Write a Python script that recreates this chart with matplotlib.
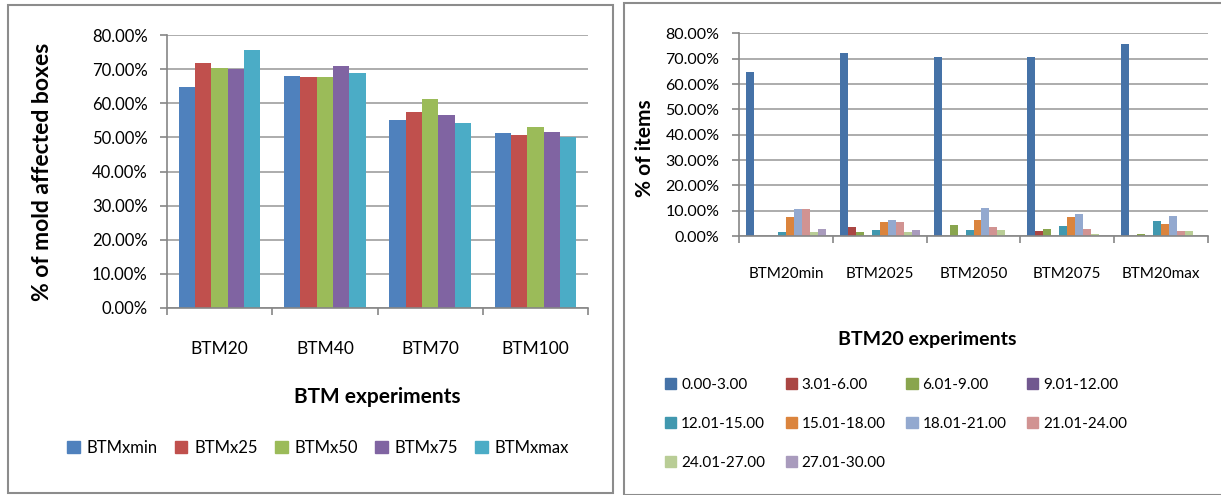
import matplotlib
matplotlib.use("Agg")
import matplotlib.pyplot as plt
from matplotlib.patches import Rectangle, Patch
from matplotlib.ticker import PercentFormatter, FixedLocator
import numpy as np

plt.rcParams['font.family'] = ['Lato', 'DejaVu Sans']

# left chart data (% of mold affected boxes)
btm_cats = ['BTM20', 'BTM40', 'BTM70', 'BTM100']
btm_series = ['BTMxmin', 'BTMx25', 'BTMx50', 'BTMx75', 'BTMxmax']
btm_xmin = [64.8, 68.1, 55.1, 51.2]
btm_x25 = [71.8, 67.7, 57.3, 50.6]
btm_x50 = [70.4, 67.7, 61.1, 53.1]
btm_x75 = [69.9, 70.8, 56.6, 51.5]
btm_xmax = [75.6, 68.9, 54.3, 50.0]
btm_colors = ['#4F81BD', '#C0504D', '#9BBB59', '#8064A2', '#4BACC6']

# right chart data (% of items)
exp_cats = ['BTM20min', 'BTM2025', 'BTM2050', 'BTM2075', 'BTM20max']
ranges = ['0.00-3.00', '3.01-6.00', '6.01-9.00', '9.01-12.00', '12.01-15.00',
          '15.01-18.00', '18.01-21.00', '21.01-24.00', '24.01-27.00', '27.01-30.00']
r_0_3 = [64.6, 72.2, 70.8, 70.8, 75.8]
r_3_6 = [0.0, 3.5, 0.0, 1.8, 0.0]
r_6_9 = [0.0, 1.4, 4.3, 2.8, 0.7]
r_9_12 = [0.0, 0.0, 0.0, 0.0, 0.0]
r_12_15 = [1.4, 2.3, 2.3, 3.8, 5.8]
r_15_18 = [7.5, 5.5, 6.4, 7.4, 4.8]
r_18_21 = [10.7, 6.4, 11.0, 8.5, 7.9]
r_21_24 = [10.7, 5.5, 3.4, 2.8, 1.9]
r_24_27 = [1.4, 1.4, 2.3, 0.7, 1.9]
r_27_30 = [2.9, 2.3, 0.0, 0.0, 0.0]
range_colors = ['#4572A7', '#AA4643', '#89A54E', '#71588F', '#4198AF',
                '#DB843D', '#93A9CF', '#D19392', '#B9CD96', '#A99BBD']

W, H = 1221, 495
fig = plt.figure(figsize=(W / 100, H / 100), dpi=100)

def px(x0, y0, x1, y1):
    # pixel box -> figure fraction [left, bottom, width, height]
    return [x0 / W, 1 - y1 / H, (x1 - x0) / W, (y1 - y0) / H]

# panel frames
fig.patches.append(Rectangle((8 / W, 1 - 493 / H), 605 / W, 488 / H, transform=fig.transFigure,
                             fill=False, edgecolor='#8c8c8c', linewidth=1.5))
fig.patches.append(Rectangle((624 / W, 0), 600 / W, 1 - 3 / H, transform=fig.transFigure,
                             fill=False, edgecolor='#8c8c8c', linewidth=1.5))

grid_c = '#a6a6a6'
axis_c = '#868686'

def style_axes(ax, ncat, label_pad):
    ax.set_xlim(-0.5, ncat - 0.5)
    ax.set_ylim(0, 80)
    ax.set_yticks(np.arange(0, 81, 10))
    ax.yaxis.set_major_formatter(PercentFormatter(xmax=100, decimals=2))
    ax.grid(axis='y', color=grid_c, linewidth=1.3)
    ax.set_axisbelow(True)
    for s in ['top', 'right']:
        ax.spines[s].set_visible(False)
    for s in ['left', 'bottom']:
        ax.spines[s].set_color(axis_c)
        ax.spines[s].set_linewidth(1.2)
    ax.set_xticks(np.arange(ncat))
    ax.xaxis.set_minor_locator(FixedLocator(np.arange(ncat + 1) - 0.5))
    ax.tick_params(axis='x', which='major', length=0, pad=label_pad)
    ax.tick_params(axis='x', which='minor', length=5, color=axis_c, width=1.2)
    ax.tick_params(axis='y', length=5, color=axis_c, width=1.2, pad=9)

# ---- left chart
ax1 = fig.add_axes(px(167, 35, 588, 308))
bw = 0.155
x = np.arange(len(btm_cats))
for i, (name, vals) in enumerate(zip(btm_series, [btm_xmin, btm_x25, btm_x50, btm_x75, btm_xmax])):
    ax1.bar(x + (i - 2) * bw, vals, width=bw, color=btm_colors[i], label=name, zorder=2)
style_axes(ax1, len(btm_cats), 24)
ax1.set_xticklabels(btm_cats, fontsize=12.5)
ax1.tick_params(axis='y', labelsize=12)
ax1.set_ylabel('% of mold affected boxes', fontsize=16.5, fontweight='bold', va='center')
ax1.yaxis.set_label_coords(-0.295, 0.5)
ax1.set_xlabel('BTM experiments', fontsize=15, fontweight='bold', va='center')
ax1.xaxis.set_label_coords(0.499, -0.326)
h1 = [Patch(color=c) for c in btm_colors]
fig.legend(h1, btm_series, ncol=5, loc='center', bbox_to_anchor=(318 / W, 1 - 448 / H),
           frameon=False, fontsize=12, handlelength=0.75, handleheight=0.75,
           handletextpad=0.4, columnspacing=1.05)

# ---- right chart
ax2 = fig.add_axes(px(739, 33.5, 1208, 236))
bw2 = 0.085
x2 = np.arange(len(exp_cats))
series2 = [r_0_3, r_3_6, r_6_9, r_9_12, r_12_15, r_15_18, r_18_21, r_21_24, r_24_27, r_27_30]
for i, vals in enumerate(series2):
    ax2.bar(x2 + (i - 4.5) * bw2, vals, width=bw2, color=range_colors[i], zorder=2)
style_axes(ax2, len(exp_cats), 22)
ax2.set_xticklabels(exp_cats, fontsize=11)
ax2.tick_params(axis='y', labelsize=11.5)
ax2.set_ylabel('% of items', fontsize=15, fontweight='bold', va='center')
ax2.yaxis.set_label_coords(-0.2, 0.435)
ax2.set_xlabel('BTM20 experiments', fontsize=14, fontweight='bold', va='center')
ax2.xaxis.set_label_coords(0.401, -0.51)

# legend filled row by row (matplotlib fills columns first)
order = [0, 4, 8, 1, 5, 9, 2, 6, 3, 7]
h2 = [Patch(color=range_colors[k]) for k in order]
fig.legend(h2, [ranges[k] for k in order], ncol=4, loc='center',
           bbox_to_anchor=(896 / W, 1 - 424 / H), frameon=False, fontsize=11,
           handlelength=0.75, handleheight=0.75, handletextpad=0.3,
           columnspacing=1.35, labelspacing=1.65)

fig.savefig('out.png', dpi=100)
